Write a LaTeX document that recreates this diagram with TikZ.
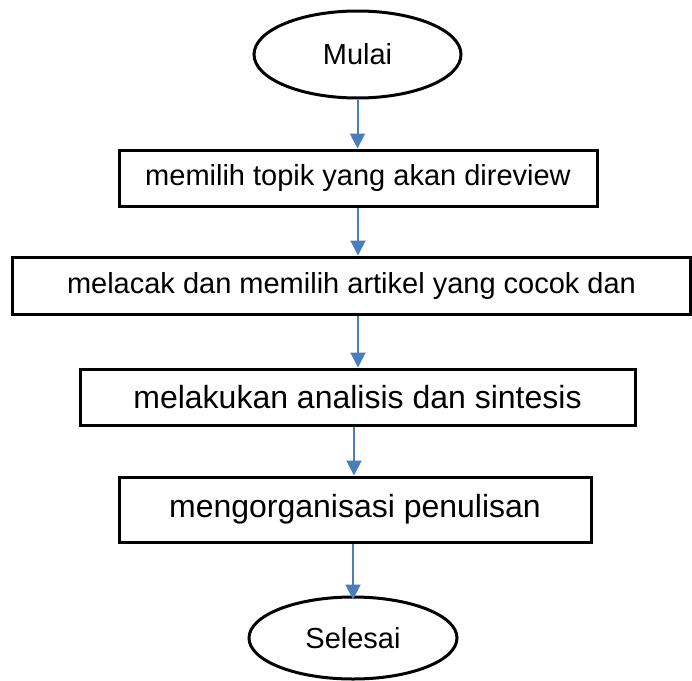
\documentclass[tikz,border=0pt]{standalone}
\usepackage{fontspec}
\setmainfont{Liberation Sans}
\usetikzlibrary{arrows.meta,shapes.geometric}
\definecolor{arrowblue}{RGB}{74,126,187}
\tikzset{
  stepbox/.style={draw=black, line width=3pt, rectangle, inner sep=0pt, align=center},
  termnode/.style={draw=black, line width=3pt, ellipse, inner sep=0pt, align=center},
  flowarrow/.style={draw=arrowblue, line width=2pt, -{Triangle[width=15pt,length=15pt]}},
  smalltext/.style={font=\fontsize{29}{35}\selectfont},
  bigtext/.style={font=\fontsize{32}{38}\selectfont}
}
\begin{document}
\begin{tikzpicture}[x=1pt,y=-1pt]
\useasboundingbox (0,0) rectangle (692,680);
\node[termnode, smalltext, minimum width=207pt, minimum height=87pt] (mulai) at (357.5,54.5) {Mulai};
\node[stepbox, smalltext, minimum width=478pt, minimum height=56pt] (b1) at (358,178) {memilih topik yang akan direview};
\node[stepbox, smalltext, minimum width=678pt, minimum height=57pt] (b2) at (351.5,285.5) {melacak dan memilih artikel yang cocok dan};
\node[stepbox, bigtext, minimum width=555pt, minimum height=56pt] (b3) at (357.5,397) {melakukan analisis dan sintesis};
\node[stepbox, bigtext, minimum width=472pt, minimum height=65pt] (b4) at (355,509.5) {mengorganisasi penulisan};
\node[termnode, smalltext, minimum width=208pt, minimum height=82pt] (selesai) at (353,638) {Selesai};
\draw[flowarrow] (mulai.south) -- (mulai.south |- b1.north);
\draw[flowarrow] (b1.south) -- (b1.south |- b2.north);
\draw[flowarrow] (b1.south |- b2.south) -- (b1.south |- b3.north);
\draw[flowarrow] ([xshift=-3.5pt]b3.south) -- ([xshift=-3.5pt]b3.south |- b4.north);
\draw[flowarrow] ([xshift=-2pt]b4.south) -- ([xshift=-2pt,yshift=-4pt]b4.south |- selesai.north);
\end{tikzpicture}
\end{document}
